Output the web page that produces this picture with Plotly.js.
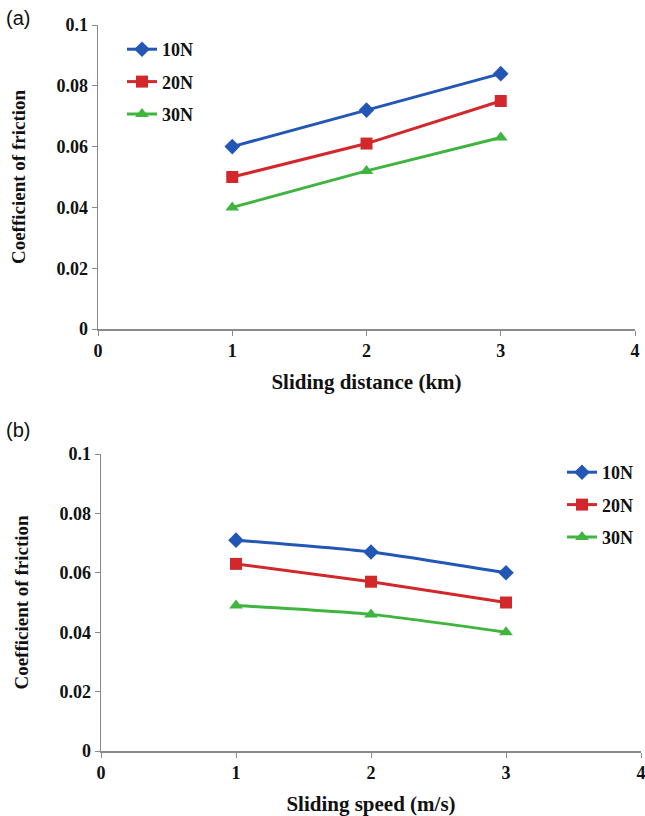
<!DOCTYPE html>
<html>
<head>
<meta charset="utf-8">
<script src="https://cdn.plot.ly/plotly-3.0.1.min.js"></script>
<style>html,body{margin:0;padding:0;background:#fff;}#chart{width:645px;height:816px;}</style>
</head>
<body>
<div id="chart"></div>
<script>
const seriesNames = ["10N", "20N", "30N"];
const xDistance = [1, 2, 3];
const cofDistance10N = [0.060, 0.072, 0.084];
const cofDistance20N = [0.050, 0.061, 0.075];
const cofDistance30N = [0.040, 0.052, 0.063];
const xSpeed = [1, 2, 3];
const cofSpeed10N = [0.071, 0.067, 0.060];
const cofSpeed20N = [0.063, 0.057, 0.050];
const cofSpeed30N = [0.049, 0.046, 0.040];
const xTickVals = [0, 1, 2, 3, 4];
const yTickVals = [0, 0.02, 0.04, 0.06, 0.08, 0.1];
const yTickText = ["0", "0.02", "0.04", "0.06", "0.08", "0.1"];

const colors = ["#2357b5", "#d2282c", "#3fb43f"];
const symbols = ["diamond", "square", "triangle-up"];
const msize = [12, 12, 12];

const serif = "Liberation Serif, Times New Roman, serif";
const traces = [];
const aData = [cofDistance10N, cofDistance20N, cofDistance30N];
const bData = [cofSpeed10N, cofSpeed20N, cofSpeed30N];
aData.forEach((ys, i) => traces.push({
  x: xDistance, y: ys, name: seriesNames[i], type: "scatter", mode: "lines+markers",
  xaxis: "x", yaxis: "y", legend: "legend", legendgroup: "a" + i,
  line: {color: colors[i], width: 3}, marker: {symbol: symbols[i], size: msize[i], color: colors[i]}
}));
bData.forEach((ys, i) => traces.push({
  x: xSpeed, y: ys, name: seriesNames[i], type: "scatter", mode: "lines+markers",
  xaxis: "x2", yaxis: "y2", legend: "legend2", legendgroup: "b" + i,
  line: {color: colors[i], width: 3, shape: "spline", smoothing: 0.6},
  marker: {symbol: symbols[i], size: msize[i], color: colors[i]}
}));

const tickFont = {family: serif, size: 18, color: "#111", weight: "bold"};
const titleFont = {family: serif, size: 21, color: "#111", weight: "bold"};
function xAxis(domain, anchor, title) {
  return {domain: domain, anchor: anchor, range: [0, 4], tickvals: xTickVals, ticktext: xTickVals.map(String),
    showline: true, linecolor: "#8a8a8a", linewidth: 1.5, ticks: "outside", ticklen: 5, tickcolor: "#8a8a8a",
    showgrid: false, zeroline: false, tickfont: tickFont, automargin: false, ticklabeloverflow: "allow",
    title: {text: title, font: titleFont, standoff: 14}};
}
function yAxis(domain, anchor) {
  return {domain: domain, anchor: anchor, range: [0, 0.1], tickvals: yTickVals, ticktext: yTickText,
    showline: true, linecolor: "#8a8a8a", linewidth: 1.5, ticks: "outside", ticklen: 5, tickcolor: "#8a8a8a",
    showgrid: false, zeroline: false, tickfont: tickFont, automargin: false, ticklabeloverflow: "allow",
    title: {text: "Coefficient of friction", font: {family: serif, size: 19, color: "#111", weight: "bold"}, standoff: 26}};
}
const legendFont = {family: serif, size: 18, color: "#111", weight: "bold"};
const layout = {
  width: 645, height: 816,
  margin: {l: 0, r: 0, t: 0, b: 0},
  paper_bgcolor: "#fff", plot_bgcolor: "#fff",
  showlegend: true,
  xaxis: xAxis([98/645, 635/645], "y", "Sliding distance (km)"),
  yaxis: yAxis([1 - 329/816, 1 - 25/816], "x"),
  xaxis2: xAxis([101/645, 641/645], "y2", "Sliding speed (m/s)"),
  yaxis2: yAxis([1 - 751/816, 1 - 454/816], "x2"),
  legend: {x: 122/645, y: 1 - 31/816, xanchor: "left", yanchor: "top", font: legendFont,
    traceorder: "grouped", tracegroupgap: 6, itemwidth: 30, bgcolor: "rgba(0,0,0,0)"},
  legend2: {x: 562/645, y: 1 - 454/816, xanchor: "left", yanchor: "top", font: legendFont,
    traceorder: "grouped", tracegroupgap: 6, itemwidth: 30, bgcolor: "rgba(0,0,0,0)"},
  annotations: [
    {text: "(a)", xref: "paper", yref: "paper", x: 4/645, y: 1 - 5/816, xanchor: "left", yanchor: "top",
      showarrow: false, font: {family: "Liberation Sans, Arial, sans-serif", size: 20, color: "#111"}},
    {text: "(b)", xref: "paper", yref: "paper", x: 4/645, y: 1 - 417/816, xanchor: "left", yanchor: "top",
      showarrow: false, font: {family: "Liberation Sans, Arial, sans-serif", size: 20, color: "#111"}}
  ]
};
Plotly.newPlot("chart", traces, layout, {displayModeBar: false, staticPlot: true});
</script>
</body>
</html>
